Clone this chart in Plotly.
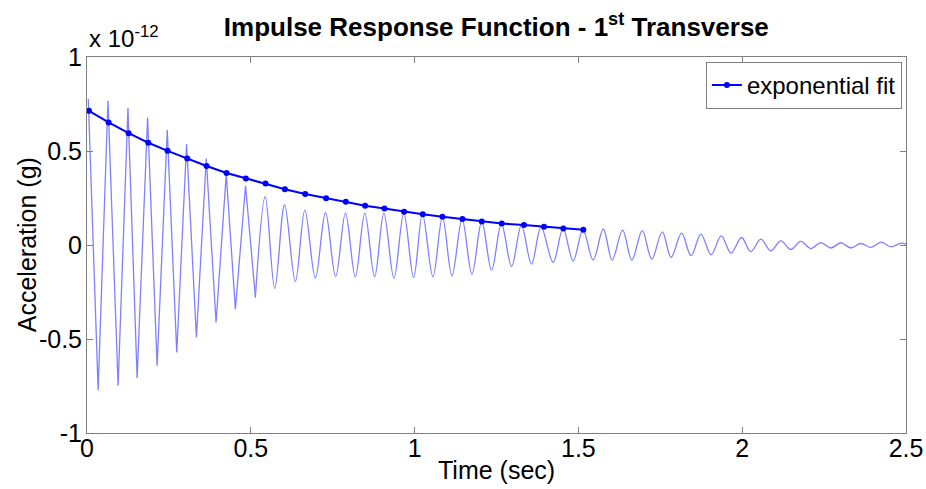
import plotly.graph_objects as go

# Impulse response (units of 1e-12 g): oscillation extrema
peak_t = [0.004, 0.064, 0.125, 0.185, 0.245, 0.304, 0.364, 0.425, 0.484, 0.544,
          0.603, 0.665, 0.728, 0.789, 0.848, 0.906, 0.967, 1.024, 1.085, 1.145,
          1.205, 1.265, 1.326, 1.386, 1.453, 1.514, 1.576, 1.635, 1.695, 1.756,
          1.815, 1.874, 1.936, 1.998, 2.057, 2.118, 2.179, 2.240, 2.301, 2.362,
          2.424, 2.485]
peak_v = [0.776, 0.767, 0.728, 0.678, 0.611, 0.537, 0.460, 0.377, 0.315, 0.258,
          0.214, 0.186, 0.173, 0.170, 0.170, 0.170, 0.170, 0.164, 0.150, 0.138,
          0.125, 0.114, 0.104, 0.095, 0.087, 0.080, 0.085, 0.079, 0.076, 0.070,
          0.063, 0.058, 0.049, 0.040, 0.031, 0.022, 0.019, 0.013, 0.012, 0.008,
          0.015, 0.010]
trough_t = [0.034, 0.095, 0.153, 0.214, 0.274, 0.334, 0.394, 0.453, 0.514, 0.573,
            0.636, 0.697, 0.759, 0.819, 0.878, 0.937, 0.997, 1.056, 1.114, 1.175,
            1.235, 1.296, 1.357, 1.423, 1.484, 1.545, 1.603, 1.663, 1.724, 1.783,
            1.844, 1.905, 1.966, 2.026, 2.087, 2.148, 2.210, 2.271, 2.332, 2.393,
            2.454, 2.500]
trough_v = [-0.772, -0.749, -0.708, -0.643, -0.572, -0.492, -0.412, -0.341, -0.279, -0.231,
            -0.194, -0.176, -0.168, -0.169, -0.169, -0.176, -0.173, -0.169, -0.164, -0.155,
            -0.134, -0.114, -0.102, -0.093, -0.084, -0.080, -0.080, -0.080, -0.075, -0.066,
            -0.057, -0.052, -0.043, -0.035, -0.031, -0.024, -0.019, -0.016, -0.016, -0.013,
            -0.010, 0.004]

# Exponential envelope fit evaluated at the response peaks
fit_t = [0.006, 0.066, 0.127, 0.187, 0.246, 0.306, 0.365, 0.426, 0.485, 0.545,
         0.604, 0.666, 0.730, 0.790, 0.849, 0.908, 0.968, 1.025, 1.085, 1.146,
         1.205, 1.266, 1.334, 1.395, 1.454, 1.515]
fit_v = [0.714, 0.652, 0.595, 0.544, 0.501, 0.460, 0.420, 0.383, 0.354, 0.327,
         0.297, 0.271, 0.249, 0.230, 0.209, 0.194, 0.177, 0.164, 0.150, 0.138,
         0.125, 0.114, 0.106, 0.097, 0.088, 0.081]

x_ticks = [0, 0.5, 1, 1.5, 2, 2.5]
x_tick_text = ["0", "0.5", "1", "1.5", "2", "2.5"]
y_ticks = [-1, -0.5, 0, 0.5, 1]
y_tick_text = ["-1", "-0.5", "0", "0.5", "1"]

# merge extrema into one time-ordered signal
pts = sorted(zip(peak_t + trough_t, peak_v + trough_v))
sig_t = [p[0] for p in pts]
sig_v = [p[1] for p in pts]
split = 17  # sharp early cycles drawn straight, later ones smoothed

FONT = "Liberation Sans, Arial, sans-serif"
FS = 25
SIG_COLOR = "#8080ff"

fig = go.Figure()
fig.add_trace(go.Scatter(x=sig_t[:split + 1], y=sig_v[:split + 1], mode="lines",
                         line=dict(color=SIG_COLOR, width=1.3), showlegend=False,
                         hoverinfo="skip"))
fig.add_trace(go.Scatter(x=sig_t[split:], y=sig_v[split:], mode="lines",
                         line=dict(color=SIG_COLOR, width=1.3, shape="spline", smoothing=1),
                         showlegend=False, hoverinfo="skip"))
fig.add_trace(go.Scatter(x=fit_t, y=fit_v, mode="lines+markers", name="exponential fit",
                         line=dict(color="#0000ff", width=2),
                         marker=dict(color="#0000ff", size=6, symbol="circle")))

axis_common = dict(showline=True, linecolor="#808080", linewidth=1, mirror="ticks",
                   ticks="inside", ticklen=6, tickcolor="#808080", showgrid=False,
                   zeroline=False, automargin=False,
                   tickfont=dict(family=FONT, size=FS, color="#000"))

fig.update_layout(
    width=926, height=489,
    margin=dict(l=87, r=20, t=57, b=56),
    paper_bgcolor="white", plot_bgcolor="white",
    title=dict(text="<b>Impulse Response Function - 1<sup>st</sup> Transverse</b>",
               x=0.536, xanchor="center", y=0.945, yanchor="middle",
               font=dict(family=FONT, size=26, color="#000")),
    xaxis=dict(range=[0, 2.5], tickvals=x_ticks, ticktext=x_tick_text,
               ticklabelstandoff=-7, **axis_common),
    yaxis=dict(range=[-1, 1], tickvals=y_ticks, ticktext=y_tick_text,
               ticklabelstandoff=-1, **axis_common),
    legend=dict(x=0.995, xanchor="right", y=0.987, yanchor="top",
                bgcolor="white", bordercolor="#808080", borderwidth=1,
                font=dict(family=FONT, size=24, color="#000"),
                itemwidth=30, tracegroupgap=0),
    annotations=[
        dict(text="x 10<sup>-12</sup>", xref="paper", yref="paper",
             x=0, y=1.008, xanchor="left", yanchor="bottom", showarrow=False,
             font=dict(family=FONT, size=24, color="#000")),
        dict(text="Time (sec)", xref="paper", yref="paper",
             x=0.5, y=-0.098, xanchor="center", yanchor="middle", showarrow=False,
             font=dict(family=FONT, size=FS, color="#000")),
        dict(text="Acceleration (g)", xref="paper", yref="paper", textangle=-90,
             x=-0.073, y=0.5, xanchor="center", yanchor="middle", showarrow=False,
             font=dict(family=FONT, size=FS, color="#000")),
    ],
)

fig.write_html("out.html")
